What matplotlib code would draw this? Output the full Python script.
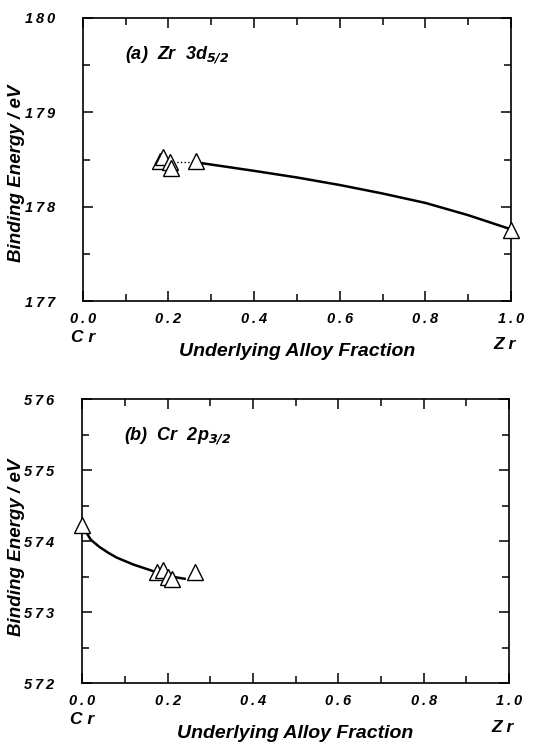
import matplotlib
matplotlib.use('Agg')
import matplotlib.pyplot as plt  # noqa
from matplotlib.ticker import MultipleLocator

plt.rcParams.update({
    'font.family': ['Liberation Sans', 'DejaVu Sans'],
    'font.weight': 'bold',
    'font.style': 'italic',
    'axes.labelweight': 'bold',
    'mathtext.default': 'bf',
    'axes.linewidth': 1.2,
})

# panel (a) Zr 3d5/2
zr_x = [0.18, 0.187, 0.203, 0.206, 0.265, 1.0]
zr_y = [178.48, 178.53, 178.47, 178.41, 178.48, 177.75]
zr_fit_x = [0.28, 0.4, 0.5, 0.6, 0.7, 0.8, 0.9, 1.0]
zr_fit_y = [178.46, 178.38, 178.31, 178.23, 178.14, 178.04, 177.91, 177.76]
zr_link_x = [0.21, 0.255]
zr_link_y = [178.47, 178.47]

# panel (b) Cr 2p3/2
cr_x = [0.0, 0.175, 0.19, 0.2, 0.21, 0.265]
cr_y = [574.23, 573.56, 573.59, 573.49, 573.46, 573.56]
cr_fit_x = [0.01, 0.02, 0.04, 0.06, 0.08, 0.10, 0.12, 0.15, 0.18, 0.21, 0.24]
cr_fit_y = [574.12, 574.02, 573.92, 573.84, 573.77, 573.72, 573.67, 573.61,
            573.55, 573.50, 573.47]

x_ticks = [0.0, 0.2, 0.4, 0.6, 0.8, 1.0]
x_ticklabels = ['0.0', '0.2', '0.4', '0.6', '0.8', '1.0']
zr_yticks = [177, 178, 179, 180]
cr_yticks = [572, 573, 574, 575, 576]


def spaced(s):
    return '\u2009'.join(s)


def style_axes(ax, yticks, label, ylab_y):
    ax.set_xlim(0, 1)
    ax.set_ylim(yticks[0], yticks[-1])
    ax.set_xticks(x_ticks)
    ax.set_xticklabels([spaced(t) for t in x_ticklabels])
    ax.set_yticks(yticks)
    ax.set_yticklabels([spaced(str(t)) for t in yticks])
    ax.xaxis.set_minor_locator(MultipleLocator(0.1))
    ax.yaxis.set_minor_locator(MultipleLocator(0.5))
    ax.tick_params(which='both', direction='in', top=True, right=True,
                   width=1.1)
    ax.tick_params(which='major', length=7, labelsize=10.5)
    ax.tick_params(which='minor', length=5)
    ax.tick_params(axis='y', pad=20)
    ax.tick_params(axis='x', pad=8)
    ax.set_xlabel('Underlying Alloy Fraction', fontsize=14, labelpad=12)
    ax.set_ylabel('Binding Energy / eV', fontsize=13.5)
    ax.yaxis.set_label_coords(-0.135, ylab_y)
    ax.text(0.0, -0.13, 'C r', transform=ax.transAxes, ha='center',
            va='center', fontsize=12.5)
    ax.text(0.985, -0.155, 'Z r', transform=ax.transAxes, ha='center',
            va='center', fontsize=12.5)
    ax.text(0.098, 0.87, label, transform=ax.transAxes, ha='left',
            va='center', fontsize=13)


fig = plt.figure(figsize=(5.52, 7.49), dpi=100)
ax1 = fig.add_axes([0.150, 0.598, 0.776, 0.378])
ax2 = fig.add_axes([0.149, 0.088, 0.773, 0.379])

mk = dict(marker='^', markersize=11, markerfacecolor='white',
          markeredgecolor='black', markeredgewidth=1.0, linestyle='none',
          clip_on=False, zorder=3)

ax1.plot(zr_link_x, zr_link_y, color='black', lw=1.0, ls=':')
ax1.plot(zr_fit_x, zr_fit_y, color='black', lw=1.8)
ax1.plot(zr_x, zr_y, **mk)
style_axes(ax1, zr_yticks, r'(a)  Zr  3d$_{\mathbf{5/2}}$', 0.45)

ax2.plot(cr_fit_x, cr_fit_y, color='black', lw=1.8)
ax2.plot(cr_x, cr_y, **mk)
style_axes(ax2, cr_yticks, r'(b)  Cr  2p$_{\mathbf{3/2}}$', 0.48)

fig.savefig('out.png', dpi=100)
